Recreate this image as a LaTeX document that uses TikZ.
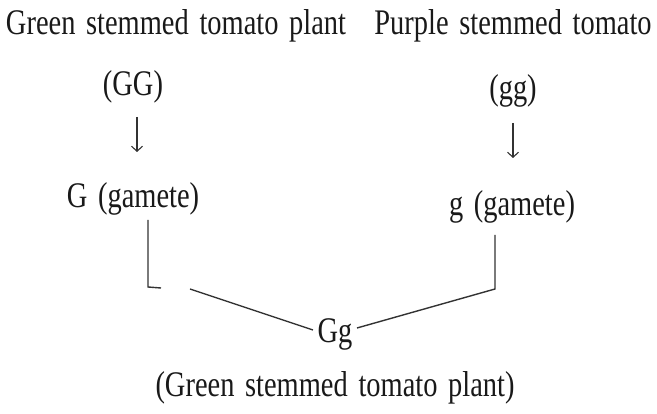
\documentclass[tikz,border=0pt]{standalone}
\usepackage{fontspec}
\setmainfont[FakeStretch=0.79,WordSpace=1.5]{Liberation Serif}
\usetikzlibrary{arrows.meta}
\tikzset{
  lbl/.style={inner sep=0pt, anchor=base, font=\fontsize{36}{40}\selectfont, text=black!90},
  conn/.style={line width=1.4pt, draw=black!80},
  arr/.style={line width=1.1pt, draw=black!80, -{Straight Barb[length=5pt,width=11pt]}}
}
\begin{document}
\begin{tikzpicture}[x=1pt,y=1pt]
\useasboundingbox (0,0) rectangle (657,414);
\node[lbl] (t1) at (176,379) {Green stemmed tomato plant};
\node[lbl] (t2) at (513,379) {Purple stemmed tomato};
\node[lbl] (GG) at (133,318) {(GG)};
\node[lbl] (gg) at (513,314) {(gg)};
\node[lbl] (G) at (133,206) {G (gamete)};
\node[lbl] (g) at (512,198) {g (gamete)};
\node[lbl] (Gg) at (335,71) {Gg};
\node[lbl] (off) at (335,17) {(Green stemmed tomato plant)};
% arrows
\coordinate (a1s) at (137,297);
\coordinate (a1e) at (137,262);
\coordinate (a2s) at (513,291);
\coordinate (a2e) at (513,256);
\draw[arr] (a1s) -- (a1e);
\draw[arr] (a2s) -- (a2e);
% left connector
\coordinate (lt) at (148,194);
\coordinate (lv) at (148,127);
\coordinate (lh) at (161,126);
\coordinate (lg) at (190,125);
\coordinate (gl) at (313,84);
\draw[conn] (lt) -- (lv) -- (lh);
\draw[conn] (lg) -- (gl);
% right connector
\coordinate (gr) at (357,86);
\coordinate (rv) at (495,125);
\coordinate (rt) at (495,179);
\draw[conn] (gr) -- (rv) -- (rt);
\end{tikzpicture}
\end{document}
